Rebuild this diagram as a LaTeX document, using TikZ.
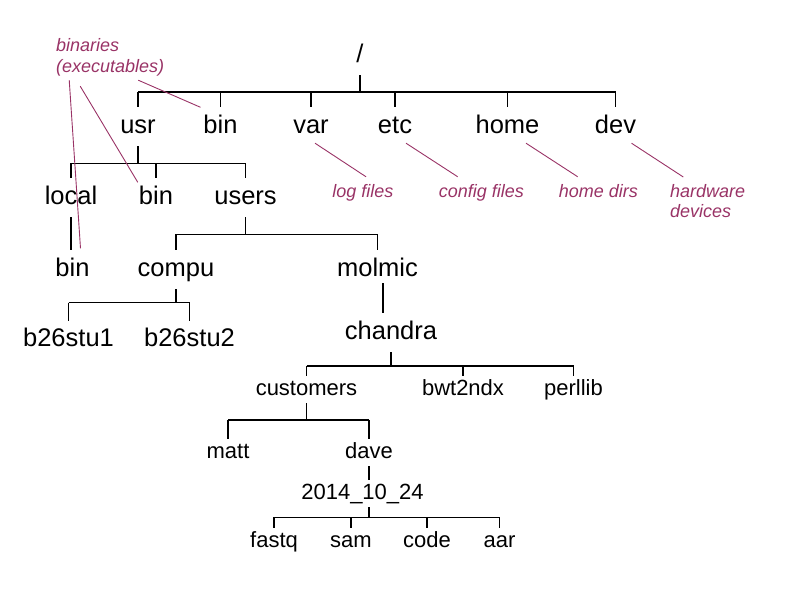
\documentclass[tikz,border=0pt]{standalone}
\usepackage{fontspec}
\setmainfont{Liberation Sans}
\definecolor{color1}{HTML}{993366}
\tikzset{
  dirbig/.style={font=\fontsize{25.5}{30}\selectfont, anchor=base, inner xsep=1pt, inner ysep=7pt, text height=18.5pt, text depth=6pt},
  dirsmall/.style={font=\fontsize{22}{26}\selectfont, anchor=base, inner xsep=1pt, inner ysep=3pt, text height=16pt, text depth=5pt},
  note/.style={font=\fontsize{18}{20.5}\selectfont\itshape, text=color1, inner xsep=0pt, inner ysep=7pt},
  tree/.style={line width=1.1pt},
  noteline/.style={color1, line width=0.9pt}
}
\begin{document}
\begin{tikzpicture}[x=1pt,y=-1pt]
\useasboundingbox (0,0) rectangle (800,600);
% directories
\node[dirbig] (root) at (360,62) {/};
\node[dirbig] (usr) at (138,133) {usr}; \node[dirbig] (bin) at (220.5,133) {bin}; \node[dirbig] (var) at (311,133) {var};
\node[dirbig] (etc) at (395,133) {etc}; \node[dirbig] (home) at (507.5,133) {home}; \node[dirbig] (dev) at (615.5,133) {dev};
\node[dirbig] (local) at (71,204) {local}; \node[dirbig] (usrbin) at (156,204) {bin}; \node[dirbig] (users) at (245.5,204) {users};
\node[dirbig] (localbin) at (72.5,276) {bin}; \node[dirbig] (compu) at (176,276) {compu}; \node[dirbig] (molmic) at (377.5,276) {molmic};
\node[dirbig] (stua) at (68.5,346.7) {b26stu1}; \node[dirbig] (stub) at (189.5,346.7) {b26stu2};
\node[dirbig] (chandra) at (391,339) {chandra};
\node[dirsmall] (customers) at (306.5,395) {customers}; \node[dirsmall] (bwt) at (463,395) {bwt2ndx}; \node[dirsmall] (perllib) at (573.5,395) {perllib};
\node[dirsmall] (matt) at (228,458) {matt}; \node[dirsmall] (dave) at (369,458) {dave};
\node[dirsmall] (date) at (362.5,499) {2014\_10\_24};
\node[dirsmall] (fastq) at (274,547.3) {fastq}; \node[dirsmall] (sam) at (351,547.3) {sam}; \node[dirsmall] (code) at (427,547.3) {code}; \node[dirsmall] (aar) at (499.5,547.3) {aar};

% notes
\node[note, anchor=north west, align=left] (bins) at (56,31.5) {binaries\\(executables)};
\node[note, anchor=base] (logf) at (363,197) {log files}; \node[note, anchor=base] (conf) at (481.3,197) {config files};
\node[note, anchor=base] (homed) at (598.3,197) {home dirs};
\node[note, anchor=north west, align=left] (hw) at (670,177) {hardware\\devices};

% tree lines
\coordinate (rootbar) at (360,92); \coordinate (usrbar) at (138,163.3); \coordinate (usersbar) at (245.5,234.3);
\coordinate (compubar) at (176,302.7); \coordinate (chandrabar) at (391,366); \coordinate (custbar) at (306.5,420); \coordinate (datebar) at (369,517.3);
\draw[tree] (root.south) -- (rootbar) (usr.north |- rootbar) -- (dev.north |- rootbar);
\foreach \n in {usr,bin,var,etc,home,dev} \draw[tree] (\n.north |- rootbar) -- (\n.north);
\draw[tree] (usr.south) -- (usrbar) (local.north |- usrbar) -- (users.north |- usrbar);
\foreach \n in {local,usrbin,users} \draw[tree] (\n.north |- usrbar) -- (\n.north);
\draw[tree] (local.south) -- (local.south |- localbin.north);
\draw[tree] (users.south) -- (usersbar) (compu.north |- usersbar) -- (molmic.north |- usersbar);
\foreach \n in {compu,molmic} \draw[tree] (\n.north |- usersbar) -- (\n.north);
\draw[tree] (compu.south) -- (compubar) (stua.north |- compubar) -- (stub.north |- compubar);
\foreach \n in {stua,stub} \draw[tree] (\n.north |- compubar) -- (\n.north);
\draw[tree] ([xshift=5.5pt,yshift=6pt]molmic.south) -- ([xshift=5.5pt]molmic.south |- chandra.north);
\draw[tree] (chandra.south) -- (chandrabar) (customers.north |- chandrabar) -- (perllib.north |- chandrabar);
\foreach \n in {customers,bwt,perllib} \draw[tree] (\n.north |- chandrabar) -- (\n.north);
\draw[tree] (customers.south) -- (custbar) (matt.north |- custbar) -- (dave.north |- custbar);
\foreach \n in {matt,dave} \draw[tree] (\n.north |- custbar) -- (\n.north);
\draw[tree] (dave.south) -- (dave.south |- date.north);
\draw[tree] (dave.south |- date.south) -- (datebar) (fastq.north |- datebar) -- (aar.north |- datebar);
\foreach \n in {fastq,sam,code,aar} \draw[tree] (\n.north |- datebar) -- (\n.north);

% note lines
\draw[noteline] ([xshift=28pt,yshift=3pt]bins.south) -- ([xshift=-20pt]bin.north);
\draw[noteline] ([xshift=-30pt,yshift=-3pt]bins.south) -- ([yshift=-4pt]usrbin.north west);
\draw[noteline] ([xshift=-41pt,yshift=3pt]bins.south) -- ([xshift=8pt,yshift=2pt]localbin.north);
\draw[noteline] ([xshift=4pt,yshift=3pt]var.south) -- ([xshift=3pt]logf.north);
\draw[noteline] ([xshift=11pt,yshift=3pt]etc.south) -- ([xshift=-23.6pt]conf.north);
\draw[noteline] ([xshift=18.5pt,yshift=3pt]home.south) -- ([xshift=-20.6pt]homed.north);
\draw[noteline] ([xshift=16pt,yshift=3pt]dev.south) -- ([xshift=13.3pt]hw.north west);
\end{tikzpicture}
\end{document}
